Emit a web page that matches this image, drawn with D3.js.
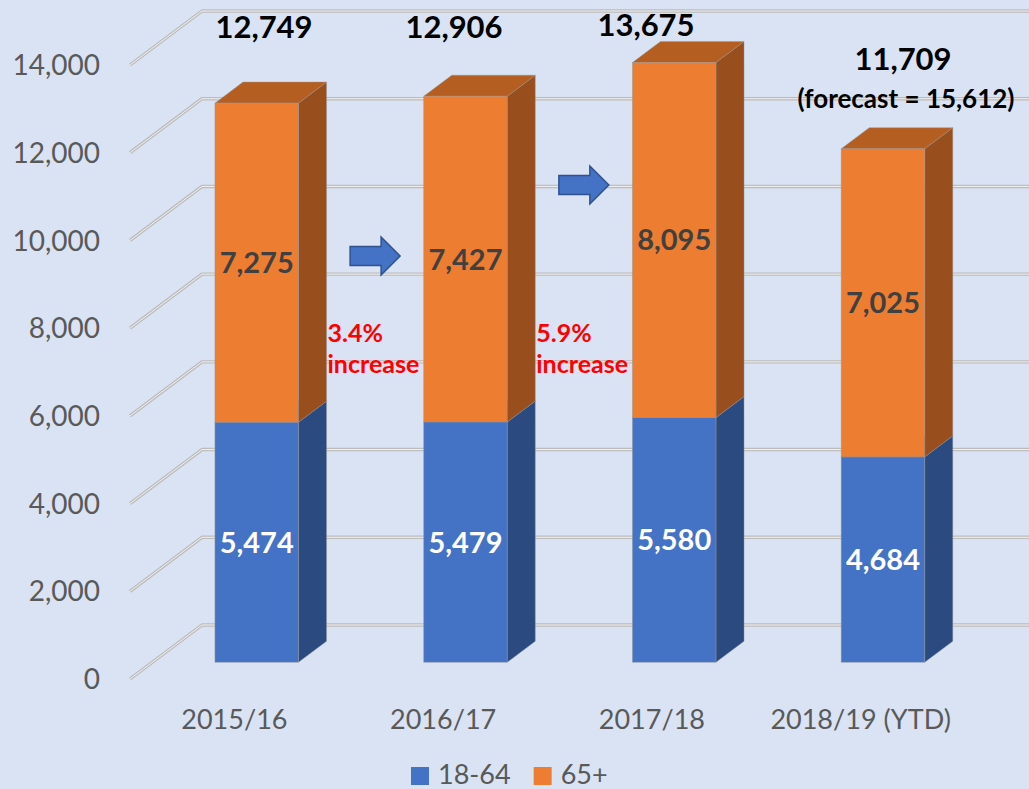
<!DOCTYPE html>
<meta charset="utf-8">
<style>
body { margin: 0; background: #DAE3F3; }
svg { display: block; font-family: Lato, "Open Sans", sans-serif; }
.tick-label { font-size: 28px; fill: #595959; }
.cat-label { font-size: 27px; fill: #595959; }
.seg-label { font-size: 29px; font-weight: bold; }
.total-label { font-size: 31px; font-weight: bold; fill: #000; }
.note { font-size: 25px; font-weight: bold; fill: #FF0000; }
</style>
<svg width="1029" height="789"></svg>
<script src="https://d3js.org/d3.v7.min.js"></script>
<script>

// data
var years = ["2015/16", "2016/17", "2017/18", "2018/19 (YTD)"];
var age1864 = [5474, 5479, 5580, 4684];
var age65 = [7275, 7427, 8095, 7025];
var seriesNames = ["18-64", "65+"];
var yTicks = [0, 2000, 4000, 6000, 8000, 10000, 12000, 14000];
var growthNotes = ["3.4%", "5.9%"];
var forecastText = "(forecast = 15,612)";

var svg = d3.select("svg"),
    W = +svg.attr("width"),
    H = +svg.attr("height");

svg.append("rect").attr("width", W).attr("height", H).attr("fill", "#DAE3F3");

// 3d look: front plane of the floor plus a depth shift
var DX = 72, DY = 54;        // full depth of the floor
var z0 = 0.31, z1 = 0.70;    // where bars sit inside the depth

var x = d3.scaleBand()
    .domain(years)
    .range([130, 965])
    .paddingInner(0.6)
    .paddingOuter(0.3);

var xc = d3.scaleBand().domain(years).range([130, 965]);   // category centres on the front plane

var y = d3.scaleLinear().domain([0, 14000]).range([679, 65]);

var fmt = d3.format(",");

// gridlines
var grid = svg.append("g");
yTicks.forEach(function(t) {
  var pts = [[130, y(t)], [130 + DX, y(t) - DY], [W + 5, y(t) - DY]];
  grid.append("polyline")
      .attr("points", pts.join(" "))
      .attr("fill", "none")
      .attr("stroke", "#BCBCBC")
      .attr("stroke-width", 3.4)
      .attr("stroke-linejoin", "round");
  grid.append("polyline")
      .attr("points", pts.join(" "))
      .attr("fill", "none")
      .attr("stroke", "#F2F2F2")
      .attr("stroke-width", 1)
      .attr("stroke-linejoin", "round");
});

// y axis labels
svg.append("g").selectAll("text")
  .data(yTicks)
  .enter().append("text")
    .attr("class", "tick-label")
    .attr("x", 100)
    .attr("y", function(d) { return y(d); })
    .attr("dy", "0.36em")
    .attr("text-anchor", "end")
    .text(function(d) { return fmt(d); });

// category labels
svg.append("g").selectAll("text")
  .data(years)
  .enter().append("text")
    .attr("class", "cat-label")
    .attr("x", function(d) { return xc(d) + xc.bandwidth() / 2; })
    .attr("y", 729)
    .attr("text-anchor", "middle")
    .text(function(d) { return d; });

var colors = {
  "18-64": {front: "#4472C4", side: "#2A4A80", top: "#3A62A8"},
  "65+": {front: "#ED7D31", side: "#984F1D", top: "#B55E22"}
};

function pt(px, v, z) { return [px + z * DX, y(v) - z * DY]; }

function box(g, x0, w, v0, v1, c) {
  var dz = z1 - z0;
  var fl = pt(x0, v0, z0), tr = pt(x0 + w, v1, z0);
  var edge = "rgba(150,150,150,0.55)";
  // side
  g.append("polygon")
      .attr("points", [[tr[0], fl[1]], [tr[0] + dz * DX, fl[1] - dz * DY], [tr[0] + dz * DX, tr[1] - dz * DY], [tr[0], tr[1]]].join(" "))
      .attr("fill", c.side).attr("stroke", edge).attr("stroke-width", 0.8);
  // top
  g.append("polygon")
      .attr("points", [[fl[0], tr[1]], [tr[0], tr[1]], [tr[0] + dz * DX, tr[1] - dz * DY], [fl[0] + dz * DX, tr[1] - dz * DY]].join(" "))
      .attr("fill", c.top).attr("stroke", edge).attr("stroke-width", 0.8);
  // front
  g.append("rect")
      .attr("x", fl[0]).attr("y", tr[1])
      .attr("width", w).attr("height", fl[1] - tr[1])
      .attr("fill", c.front).attr("stroke", edge).attr("stroke-width", 0.8);
}

var bars = svg.append("g");
years.forEach(function(yr, i) {
  var g = bars.append("g");
  var x0 = x(yr), w = x.bandwidth();
  box(g, x0, w, 0, age1864[i], colors["18-64"]);
  box(g, x0, w, age1864[i], age1864[i] + age65[i], colors["65+"]);

  var cx = x0 + w / 2 + z0 * DX;
  g.append("text")
      .attr("class", "seg-label")
      .attr("x", cx)
      .attr("y", y(age1864[i] / 2) - z0 * DY)
      .attr("dy", "0.36em")
      .attr("text-anchor", "middle")
      .attr("fill", "#FFFFFF")
      .text(fmt(age1864[i]));
  g.append("text")
      .attr("class", "seg-label")
      .attr("x", cx)
      .attr("y", y(age1864[i] + age65[i] / 2) - z0 * DY)
      .attr("dy", "0.36em")
      .attr("text-anchor", "middle")
      .attr("fill", "#404040")
      .text(fmt(age65[i]));
});

// totals (hand-placed text boxes in the original)
var totalPos = [[264, 38], [454, 38], [646, 36], [903, 70]];
years.forEach(function(yr, i) {
  svg.append("text")
      .attr("class", "total-label")
      .attr("x", totalPos[i][0])
      .attr("y", totalPos[i][1])
      .attr("text-anchor", "middle")
      .text(fmt(age1864[i] + age65[i]));
});
svg.append("text")
    .attr("class", "total-label")
    .style("font-size", "26px")
    .attr("x", 906)
    .attr("y", 108)
    .attr("text-anchor", "middle")
    .text(forecastText);

// arrows + growth notes in the gaps between bars
var arrowY = [256, 185];
growthNotes.forEach(function(note, i) {
  var left = x(years[i]) + x.bandwidth() + z1 * DX;
  var right = x(years[i + 1]) + z0 * DX;
  var mx = (left + right) / 2, my = arrowY[i];
  var a = [[-25, -9.5], [6, -9.5], [6, -19], [25, 0], [6, 19], [6, 9.5], [-25, 9.5]]
    .map(function(p) { return [mx + p[0], my + p[1]]; });
  svg.append("polygon")
      .attr("points", a.join(" "))
      .attr("fill", "#4472C4")
      .attr("stroke", "#2F528F")
      .attr("stroke-width", 1.5);
  var t = svg.append("text").attr("class", "note");
  t.append("tspan").attr("x", left + 1).attr("y", 342).text(note);
  t.append("tspan").attr("x", left + 1).attr("y", 373).text("increase");
});

// legend
var legend = svg.append("g").attr("transform", "translate(411,767)");
var lx = 0;
seriesNames.forEach(function(s) {
  var lg = legend.append("g").attr("transform", "translate(" + lx + ",0)");
  lg.append("rect").attr("width", 18).attr("height", 18).attr("fill", colors[s].front);
  var tx = lg.append("text")
      .attr("class", "cat-label")
      .attr("x", 27)
      .attr("y", 17)
      .text(s);
  lx += 27 + tx.node().getComputedTextLength() + 23;
});

</script>
